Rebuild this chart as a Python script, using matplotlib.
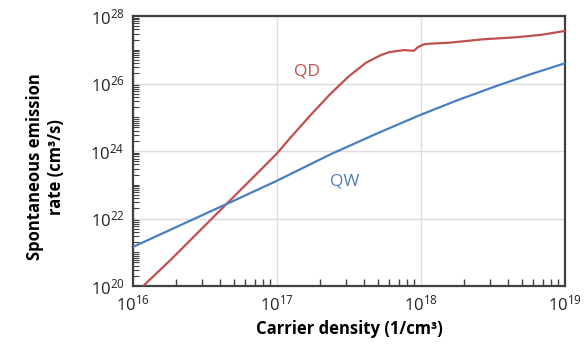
import matplotlib
matplotlib.use("Agg")
import matplotlib.pyplot as plt
from matplotlib.ticker import LogLocator, FixedLocator, NullFormatter, FuncFormatter
import numpy as np

# values (log10 of carrier density, log10 of rate)
qd_log_n = [16.07, 16.26, 16.67, 16.90, 17.00, 17.09, 17.23, 17.37, 17.50, 17.62,
            17.72, 17.78, 17.88, 17.95, 17.98, 18.02, 18.06, 18.20, 18.43, 18.66,
            18.83, 18.92, 19.00]
qd_log_r = [20.00, 20.77, 22.52, 23.50, 23.93, 24.38, 25.05, 25.69, 26.22, 26.62,
            26.84, 26.93, 26.99, 26.97, 27.08, 27.16, 27.18, 27.21, 27.31, 27.37,
            27.44, 27.50, 27.56]

qw_log_n = [16.00, 16.67, 17.00, 17.37, 17.70, 17.99, 18.25, 18.52, 18.75, 19.00]
qw_log_r = [21.16, 22.47, 23.12, 23.90, 24.53, 25.06, 25.50, 25.92, 26.26, 26.60]

x_ticks = [1e16, 1e17, 1e18, 1e19]
y_ticks = [1e20, 1e22, 1e24, 1e26, 1e28]

RED = "#C0504D"
BLUE = "#4A7EC2"

plt.rcParams["font.family"] = ["Open Sans", "DejaVu Sans"]
plt.rcParams["mathtext.fontset"] = "custom"
plt.rcParams["mathtext.rm"] = "Open Sans"
plt.rcParams["mathtext.it"] = "Open Sans"
plt.rcParams["mathtext.bf"] = "Open Sans:bold"


def pow10(v, pos):
    return r"$\mathregular{10^{%d}}$" % int(round(np.log10(v)))


fig = plt.figure(figsize=(5.87, 3.48), dpi=100)
ax = fig.add_axes([0.2266, 0.178, 0.7359, 0.776])

ax.plot(10 ** np.array(qd_log_n), 10 ** np.array(qd_log_r), color=RED, lw=1.6,
        solid_joinstyle="round", zorder=3)
ax.plot(10 ** np.array(qw_log_n), 10 ** np.array(qw_log_r), color=BLUE, lw=1.6,
        solid_joinstyle="round", zorder=3)

ax.set_xscale("log")
ax.set_yscale("log")
ax.set_xlim(1e16, 1e19)
ax.set_ylim(1e20, 1e28)

ax.xaxis.set_major_locator(FixedLocator(x_ticks))
ax.yaxis.set_major_locator(FixedLocator(y_ticks))
ax.xaxis.set_major_formatter(FuncFormatter(pow10))
ax.yaxis.set_major_formatter(FuncFormatter(pow10))
ax.xaxis.set_minor_locator(LogLocator(base=10, subs=np.arange(2, 10), numticks=20))
ax.yaxis.set_minor_locator(LogLocator(base=10, subs=np.arange(1, 10), numticks=20))
ax.xaxis.set_minor_formatter(NullFormatter())
ax.yaxis.set_minor_formatter(NullFormatter())

ax.tick_params(axis="both", which="major", length=0, labelsize=12, pad=6, colors="#222222")
ax.tick_params(axis="x", which="minor", direction="in", length=5, width=1, color="#404040")
ax.tick_params(axis="y", which="minor", direction="in", length=4, width=0.8, color="#404040")

ax.grid(True, which="major", color="#dcdcdc", lw=1, zorder=0)
for s in ax.spines.values():
    s.set_color("#404040")
    s.set_linewidth(1.6)

ax.text(10 ** 17.21, 10 ** 26.37, "QD", color=RED, fontsize=12.5, ha="center", va="center")
ax.text(10 ** 17.47, 10 ** 23.11, "QW", color=BLUE, fontsize=12.5, ha="center", va="center")

ax.set_xlabel("Carrier density (1/cm³)", fontsize=12, fontweight="bold", labelpad=4)
fig.text(0.077, 0.52, "Spontaneous emission\nrate (cm³/s)", rotation=90, fontsize=12,
         fontweight="bold", ha="center", va="center", multialignment="center")

fig.savefig("out.png", dpi=100)
